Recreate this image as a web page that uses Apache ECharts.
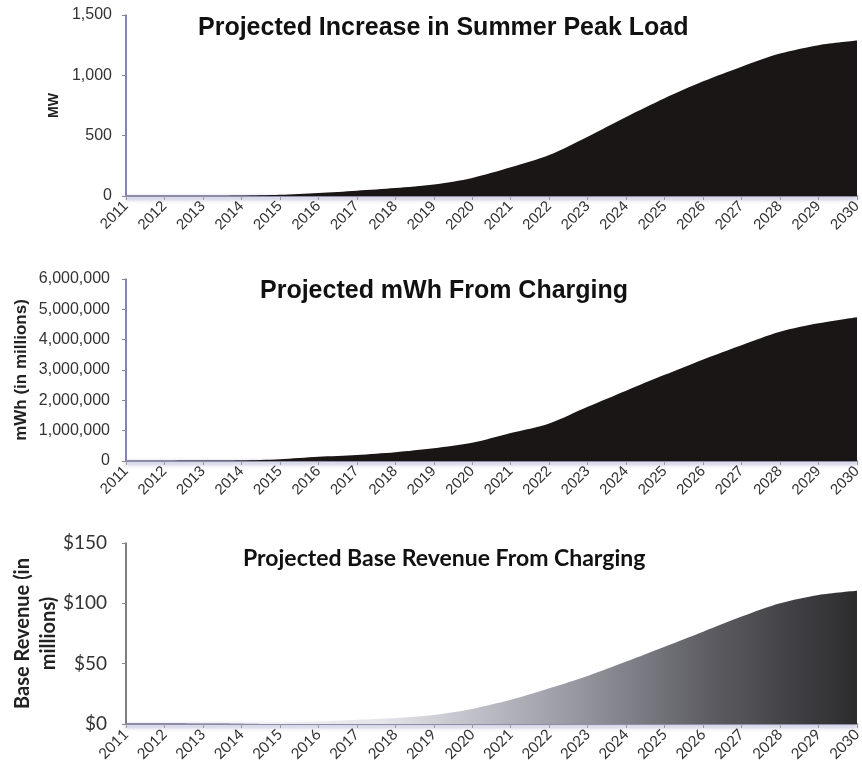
<!DOCTYPE html>
<html>
<head>
<meta charset="utf-8">
<script src="https://cdn.jsdelivr.net/npm/echarts@6/dist/echarts.min.js"></script>
<style>
  html, body { margin: 0; padding: 0; background: #fff; }
  #main { width: 862px; height: 782px; }
</style>
</head>
<body>
<div id="main"></div>
<script>
var years = ['2011', '2012', '2013', '2014', '2015', '2016', '2017', '2018', '2019', '2020',
  '2021', '2022', '2023', '2024', '2025', '2026', '2027', '2028', '2029', '2030'];

// MW
var peakLoad = [0, 0, 0, 2, 10, 25, 44, 66, 95, 150, 238, 340, 492, 655, 810, 950, 1072, 1180, 1250, 1288];
// mWh
var chargingMWh = [0, 0, 5000, 15000, 60000, 140000, 200000, 290000, 420000, 600000,
  920000, 1240000, 1790000, 2320000, 2840000, 3350000, 3820000, 4260000, 4540000, 4740000];
// $ millions
var baseRevenue = [0, 0, 0.2, 0.5, 1, 2, 3.5, 5, 7.5, 12.5, 20, 29.6, 39.8, 51.7, 64, 76.5, 89, 100, 107, 110.5];

var titles = ['Projected Increase in Summer Peak Load', 'Projected mWh From Charging', 'Projected Base Revenue From Charging'];

var myChart = echarts.init(document.getElementById('main'));

function fmt(v) {
  return String(v).replace(/\B(?=(\d{3})+(?!\d))/g, ',');
}

function xAxisFor(i, font) {
  return {
    type: 'category',
    gridIndex: i,
    data: years,
    boundaryGap: false,
    axisLine: {
      lineStyle: { color: '#8c8ca4', width: 2, shadowColor: 'rgba(70,70,150,0.6)', shadowBlur: 4, shadowOffsetY: 2 }
    },
    axisTick: { show: true, length: 4, lineStyle: { color: '#999' } },
    axisLabel: { rotate: 45, interval: 0, color: '#333', fontSize: 15, fontFamily: font, margin: 8 },
    splitLine: { show: false }
  };
}

var option = {
  animation: false,
  title: [
    { text: titles[0], left: 193, top: 11, textStyle: { fontFamily: 'Liberation Sans', fontWeight: 'bold', fontSize: 25, color: '#111' } },
    { text: titles[1], left: 255, top: 274, textStyle: { fontFamily: 'Liberation Sans', fontWeight: 'bold', fontSize: 25, color: '#111' } },
    { text: titles[2], left: 238, top: 542, textStyle: { fontFamily: 'Lato', fontWeight: 'bold', fontSize: 23, color: '#111' } }
  ],
  grid: [
    { left: 126, right: 5, top: 15, height: 181, outerBoundsMode: 'none' },
    { left: 126, right: 5, top: 279, height: 182, outerBoundsMode: 'none' },
    { left: 126, right: 5, top: 543, height: 181, outerBoundsMode: 'none' }
  ],
  xAxis: [
    xAxisFor(0, 'Liberation Sans'),
    xAxisFor(1, 'Liberation Sans'),
    xAxisFor(2, 'Lato')
  ],
  yAxis: [
    {
      type: 'value', gridIndex: 0, min: 0, max: 1500, interval: 500,
      name: 'MW', nameLocation: 'middle', nameGap: 65, nameMoveOverlap: false,
      nameTextStyle: { fontFamily: 'Liberation Sans', fontWeight: 'bold', fontSize: 14, color: '#222' },
      axisLine: { show: true, lineStyle: { color: '#5a5aa8', width: 1.5 } },
      axisTick: { show: true, length: 4, lineStyle: { color: '#888' } },
      axisLabel: { color: '#333', fontSize: 16, fontFamily: 'Liberation Sans', margin: 14, formatter: fmt },
      splitLine: { show: false }
    },
    {
      type: 'value', gridIndex: 1, min: 0, max: 6000000, interval: 1000000,
      name: 'mWh (in millions)', nameLocation: 'middle', nameGap: 96, nameMoveOverlap: false,
      nameTextStyle: { fontFamily: 'Liberation Sans', fontWeight: 'bold', fontSize: 17, color: '#222' },
      axisLine: { show: true, lineStyle: { color: '#5a5aa8', width: 1.5 } },
      axisTick: { show: true, length: 4, lineStyle: { color: '#888' } },
      axisLabel: { color: '#333', fontSize: 16, fontFamily: 'Liberation Sans', margin: 16, formatter: fmt },
      splitLine: { show: false }
    },
    {
      type: 'value', gridIndex: 2, min: 0, max: 150, interval: 50,
      name: 'Base Revenue (in\nmillions)', nameLocation: 'middle', nameGap: 64, nameMoveOverlap: false,
      nameTextStyle: { fontFamily: 'Lato', fontWeight: 'bold', fontSize: 20, color: '#222', lineHeight: 26 },
      axisLine: { show: true, lineStyle: { color: '#555', width: 1.5 } },
      axisTick: { show: true, length: 4, lineStyle: { color: '#888' } },
      axisLabel: { color: '#333', fontSize: 19, fontFamily: 'Lato', margin: 19, formatter: function (v) { return '$' + v; } },
      splitLine: { show: false }
    }
  ],
  series: [
    {
      type: 'line', xAxisIndex: 0, yAxisIndex: 0, data: peakLoad, smooth: 0.3,
      symbol: 'none', lineStyle: { width: 0 },
      areaStyle: { color: '#1b1616', opacity: 1 }
    },
    {
      type: 'line', xAxisIndex: 1, yAxisIndex: 1, data: chargingMWh, smooth: 0.3,
      symbol: 'none', lineStyle: { width: 0 },
      areaStyle: { color: '#1b1616', opacity: 1 }
    },
    {
      type: 'line', xAxisIndex: 2, yAxisIndex: 2, data: baseRevenue, smooth: 0.3,
      symbol: 'none', lineStyle: { width: 0 },
      areaStyle: {
        opacity: 1,
        color: new echarts.graphic.LinearGradient(0, 0, 1, 0, [
          { offset: 0, color: '#ffffff' },
          { offset: 0.35, color: '#e4e4ea' },
          { offset: 0.6, color: '#9c9ca6' },
          { offset: 0.8, color: '#5c5c62' },
          { offset: 1, color: '#2c2c2e' }
        ])
      }
    }
  ]
};

myChart.setOption(option);
</script>
</body>
</html>
